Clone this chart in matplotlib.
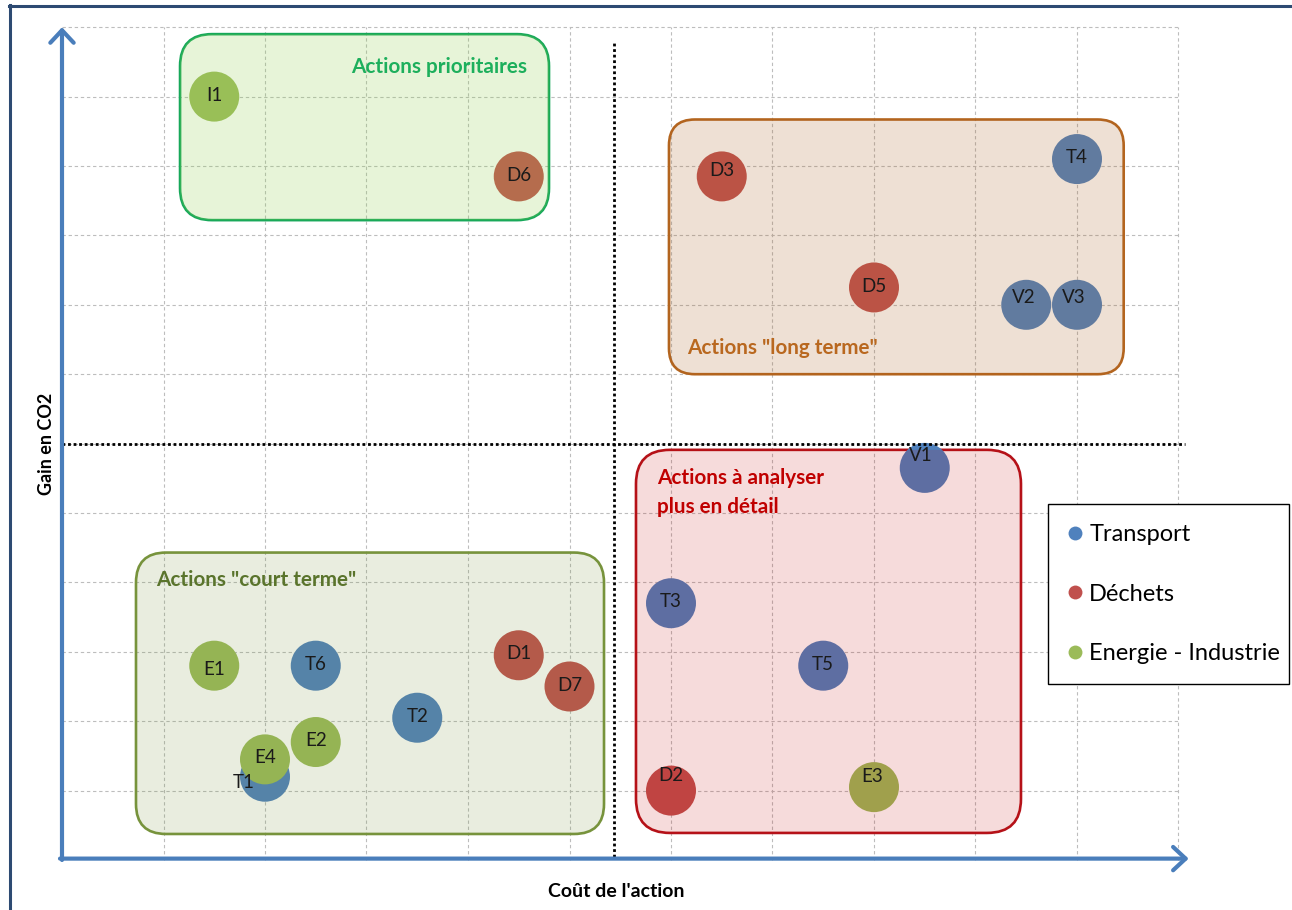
import matplotlib
matplotlib.use("Agg")
import matplotlib.pyplot as plt
from matplotlib.patches import FancyBboxPatch
from matplotlib.lines import Line2D

plt.rcParams["font.family"] = ["Lato", "DejaVu Sans"]

# ---- Data: cost of the action (x) vs CO2 gain (y) ----
transport_labels = ["T1", "T2", "T3", "T4", "T5", "T6", "V1", "V2", "V3"]
transport_cost = [2.0, 3.5, 6.0, 10.0, 7.5, 2.5, 8.5, 9.5, 10.0]
transport_gain = [1.2, 2.05, 3.7, 10.1, 2.8, 2.8, 5.65, 8.0, 8.0]

dechets_labels = ["D1", "D2", "D3", "D5", "D6", "D7"]
dechets_cost = [4.5, 6.0, 6.5, 8.0, 4.5, 5.0]
dechets_gain = [2.95, 1.0, 9.85, 8.25, 9.85, 2.5]

energie_labels = ["E1", "E2", "E3", "E4", "I1"]
energie_cost = [1.5, 2.5, 8.0, 2.0, 1.5]
energie_gain = [2.8, 1.7, 1.05, 1.45, 11.0]

series_names = ["Transport", "Déchets", "Energie - Industrie"]
series_colors = ["#4F81BD", "#C0504D", "#9BBB59"]

# ---- Figure / coordinate frame ----
W, H, DPI = 1292, 910, 100
X0_PX, Y0_PX = 62.0, 860.0      # pixel position of the origin
UX, UY = 101.5, 69.4            # pixels per unit on each axis

fig = plt.figure(figsize=(W / DPI, H / DPI), dpi=DPI)
ax = fig.add_axes([0, 0, 1, 1])
ax.set_xlim(-X0_PX / UX, (W - X0_PX) / UX)
ax.set_ylim((Y0_PX - H) / UY, Y0_PX / UY)
ax.axis("off")

AXIS_BLUE = "#4A7EBB"

# dashed grid
grid_kw = dict(color="#BDBDBD", lw=0.8, linestyle=(0, (3, 2.5)), zorder=1)
for gx in range(1, 12):
    ax.plot([gx, gx], [0, 12], **grid_kw)
for gy in range(1, 13):
    ax.plot([0, 11], [gy, gy], **grid_kw)

# axes as blue arrows
arrow_kw = dict(arrowstyle="->,head_length=0.45,head_width=0.42", lw=3.0,
                color=AXIS_BLUE, shrinkA=0, shrinkB=0, mutation_scale=20)
ax.annotate("", xy=(11.1, 0.02), xytext=(-0.02, 0.02), arrowprops=arrow_kw, zorder=7)
ax.annotate("", xy=(0, 12.0), xytext=(0, 0.0), arrowprops=arrow_kw, zorder=7)

# quadrant separators
dot_kw = dict(color="black", lw=2.0, linestyle=(0, (1, 1)), zorder=6)
ax.plot([5.44, 5.44], [0.05, 11.8], **dot_kw)
ax.plot([0.0, 11.06], [6.0, 6.0], **dot_kw)

# ---- Zones (rounded boxes) ----
ASPECT = UX / UY
zones = [
    # (x0, y0, x1, y1, radius_px, edge, fill, alpha, title, title_color, tx, ty, ha)
    (1.163, 9.22, 4.798, 11.90, 32, "#17A85A", (146/255, 208/255, 80/255), 0.22,
     "Actions prioritaires", "#1DAF5C", 4.58, 11.43, "right"),
    (5.98, 7.00, 10.46, 10.67, 26, "#B4651E", (170/255, 100/255, 40/255), 0.20,
     "Actions \"long terme\"", "#B9681F", 6.16, 7.38, "left"),
    (5.655, 0.39, 9.448, 5.91, 34, "#B5131A", (192/255, 0, 0), 0.14,
     "Actions à analyser\nplus en détail", "#C00000", 5.86, 5.30, "left"),
    (0.729, 0.375, 5.34, 4.43, 30, "#77933C", (119/255, 147/255, 60/255), 0.16,
     "Actions \"court terme\"", "#5A742C", 0.926, 4.03, "left"),
]
for (x0, y0, x1, y1, rpx, ec, fc, al, title, tc, tx, ty, ha) in zones:
    r = rpx / UX
    style = f"round,pad=0,rounding_size={r}"
    ax.add_patch(FancyBboxPatch((x0, y0), x1 - x0, y1 - y0, boxstyle=style,
                                mutation_aspect=ASPECT, facecolor="none",
                                edgecolor=ec, lw=1.9, zorder=3))
    ax.add_patch(FancyBboxPatch((x0, y0), x1 - x0, y1 - y0, boxstyle=style,
                                mutation_aspect=ASPECT, facecolor=fc, alpha=al,
                                edgecolor="none", zorder=5))
    ax.text(tx, ty, title, color=tc, fontsize=14.9, fontweight="bold", ha=ha,
            va="center", linespacing=1.55, zorder=8)

# ---- Bubbles ----
label_offsets = {  # in points, for labels that sit off-centre
    "V1": (-3, 9), "D2": (0, 11), "E3": (-1, 8), "T1": (-15, -4),
    "V2": (-2, 5), "V3": (-2, 5), "D3": (0, 4), "E1": (0, -3),
}
all_series = [
    (transport_labels, transport_cost, transport_gain, series_colors[0]),
    (dechets_labels, dechets_cost, dechets_gain, series_colors[1]),
    (energie_labels, energie_cost, energie_gain, series_colors[2]),
]
for z, (labels, xs, ys, col) in enumerate(all_series):
    ax.scatter(xs, ys, s=1296, color=col, edgecolors="none", zorder=4 + z * 0.01)
    for lab, x, y in zip(labels, xs, ys):
        dx, dy = label_offsets.get(lab, (0, 1))
        ax.annotate(lab, (x, y), xytext=(dx, dy), textcoords="offset points",
                    ha="center", va="center", fontsize=13.5, color="#1A1A1A",
                    zorder=8)

# axis titles
ax.text(-0.148, 5.99, "Gain en CO2", rotation=90, fontsize=13, fontweight="bold",
        ha="center", va="center")
ax.text(5.46, -0.46, "Coût de l'action", fontsize=14, fontweight="bold",
        ha="center", va="center")

# legend
handles = [Line2D([], [], marker="o", ls="", markersize=10, color=c,
                  markeredgecolor="none") for c in series_colors]
leg = ax.legend(handles, series_names, loc="upper left", mode="expand",
                bbox_to_anchor=(1048 / W, 1 - 681 / H, 241 / W, 177 / H),
                bbox_transform=fig.transFigure, frameon=True, fancybox=False,
                edgecolor="black", framealpha=1, fontsize=17,
                borderpad=0.85, labelspacing=1.63, handlelength=0.6,
                handletextpad=0.3, borderaxespad=0)
leg.get_frame().set_linewidth(1.0)
leg.set_zorder(9)

# outer frame (top and left edges)
frame_col = "#2D4A72"
fig.add_artist(Line2D([9 / W, 1], [1 - 6 / H, 1 - 6 / H], transform=fig.transFigure,
                      color=frame_col, lw=2.2))
fig.add_artist(Line2D([10 / W, 10 / W], [0, 1 - 5 / H], transform=fig.transFigure,
                      color=frame_col, lw=2.2))

fig.savefig("out.png", dpi=DPI)
